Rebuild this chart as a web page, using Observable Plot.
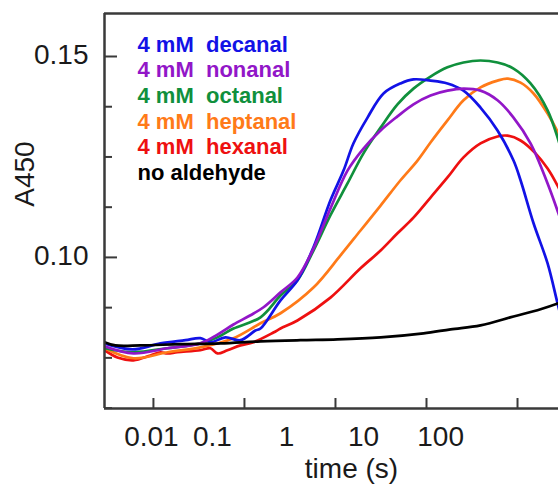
<!DOCTYPE html>
<html>
<head>
<meta charset="utf-8">
<script src="https://cdn.jsdelivr.net/npm/d3@7"></script>
<script src="https://cdn.jsdelivr.net/npm/@observablehq/plot@0.6"></script>
<style>
  html, body { margin: 0; padding: 0; background: #fff; }
</style>
</head>
<body>
<div id="chart"></div>
<script>
// ---- series identity ----
const seriesLabels = ["4 mM\u00a0\u00a0decanal", "4 mM\u00a0\u00a0nonanal", "4 mM\u00a0\u00a0octanal", "4 mM\u00a0\u00a0heptanal", "4 mM\u00a0\u00a0hexanal", "no aldehyde"];
const seriesColors = ["#1212e6", "#9216c8", "#10903c", "#ff7a18", "#ee1010", "#000000"];
// drawing order (back to front)
const drawOrder = [4, 3, 2, 0, 1, 5];

// ---- series values: time (s) and A450 ----
const decanalTime = [0.0029, 0.00588, 0.01194, 0.02249, 0.0328, 0.0423, 0.0618, 0.0904, 0.132, 0.150, 0.249, 0.382, 0.573, 0.881, 1.225, 1.578, 2.25, 3.37, 5.18, 7.19, 11.07, 17.0, 25.5, 39.2, 60.3, 90.4, 108, 150, 214, 275, 337];
const decanalA    = [0.0786, 0.0771, 0.0786, 0.0794, 0.0799, 0.0789, 0.0801, 0.0794, 0.0818, 0.0823, 0.0893, 0.0943, 0.1025, 0.1142, 0.1216, 0.1284, 0.1348, 0.1408, 0.1433, 0.1443, 0.1440, 0.1433, 0.1415, 0.1373, 0.1316, 0.1241, 0.1192, 0.1085, 0.0985, 0.0886, 0.0806];

const nonanalTime = [0.0029, 0.00603, 0.01425, 0.0328, 0.0505, 0.0757, 0.1165, 0.162, 0.249, 0.382, 0.573, 0.881, 1.355, 2.03, 3.13, 4.80, 7.19, 11.07, 17.0, 25.5, 39.2, 60.3, 90.4, 139, 214, 282, 337];
const nonanalA    = [0.0779, 0.0761, 0.0774, 0.0786, 0.0808, 0.0833, 0.0856, 0.0876, 0.0913, 0.0950, 0.1022, 0.1122, 0.1216, 0.1271, 0.1316, 0.1351, 0.1381, 0.1403, 0.1415, 0.1420, 0.1415, 0.1391, 0.1348, 0.1284, 0.1184, 0.1109, 0.1055];

const octanalTime = [0.0029, 0.00603, 0.01425, 0.0328, 0.0505, 0.0757, 0.150, 0.249, 0.382, 0.573, 0.881, 1.355, 2.03, 3.13, 4.80, 7.19, 11.07, 17.0, 25.5, 39.2, 60.3, 90.4, 139, 214, 282, 337];
const octanalA    = [0.0774, 0.0764, 0.0774, 0.0786, 0.0801, 0.0823, 0.0851, 0.0905, 0.0943, 0.1017, 0.1105, 0.1184, 0.1259, 0.1323, 0.1381, 0.1420, 0.1450, 0.1473, 0.1485, 0.1490, 0.1485, 0.1470, 0.1433, 0.1366, 0.1291, 0.1229];

const heptanalTime = [0.0029, 0.00603, 0.01425, 0.0328, 0.0757, 0.150, 0.249, 0.573, 1.135, 1.884, 3.13, 5.18, 7.96, 11.07, 17.0, 25.5, 39.2, 60.3, 77.6, 108, 150, 214, 282, 337];
const heptanalA    = [0.0774, 0.0749, 0.0764, 0.0776, 0.0799, 0.0836, 0.0861, 0.0925, 0.1005, 0.1067, 0.1129, 0.1192, 0.1241, 0.1286, 0.1341, 0.1391, 0.1423, 0.1440, 0.1445, 0.1435, 0.1408, 0.1358, 0.1308, 0.1266];

const hexanalTime = [0.0029, 0.00402, 0.00603, 0.00927, 0.01194, 0.01425, 0.01836, 0.0328, 0.0423, 0.0505, 0.0650, 0.0904, 0.1256, 0.208, 0.249, 0.382, 0.881, 1.884, 3.13, 4.80, 7.19, 11.07, 17.0, 25.5, 39.2, 60.3, 77.6, 108, 157.8, 214, 282, 337];
const hexanalA    = [0.0769, 0.0751, 0.0744, 0.0756, 0.0764, 0.0761, 0.0764, 0.0769, 0.0774, 0.0761, 0.0769, 0.0781, 0.0789, 0.0813, 0.0823, 0.0843, 0.0900, 0.0973, 0.1017, 0.1060, 0.1099, 0.1149, 0.1199, 0.1249, 0.1284, 0.1301, 0.1303, 0.1291, 0.1259, 0.1221, 0.1174, 0.1137];

const noAldehydeTime = [0.0029, 0.00382, 0.00719, 0.01983, 0.0545, 0.150, 0.412, 1.052, 3.13, 9.27, 18.4, 39.2, 90.4, 179, 282, 382];
const noAldehydeA    = [0.0789, 0.0781, 0.0781, 0.0784, 0.0786, 0.0791, 0.0794, 0.0796, 0.0801, 0.0811, 0.0821, 0.0831, 0.0853, 0.0871, 0.0886, 0.0898];

const seriesTimes = [decanalTime, nonanalTime, octanalTime, heptanalTime, hexanalTime, noAldehydeTime];
const seriesValues = [decanalA, nonanalA, octanalA, heptanalA, hexanalA, noAldehydeA];

// ---- axes ----
const xDomain = [0.0029, 282];
const yDomain = [0.0624, 0.1607];
const xTicks = [0.01, 0.1, 1, 10, 100];
const xTickLabels = ["0.01", "0.1", "1", "10", "100"];
const xTickLabelAt = [0.0095, 0.0445, 0.29, 2.03, 14.3]; // where the labels sit in the original figure
const yMinorTicks = [0.0625, 0.075, 0.0875, 0.1125, 0.125, 0.1375];
const yMajorTicks = [0.10, 0.15];
const xTitle = "time (s)";
const yTitle = "A450";

// ---- build table ----
const rows = [];
for (const i of drawOrder) {
  seriesTimes[i].forEach((t, j) => rows.push({series: seriesLabels[i], t, A: seriesValues[i][j]}));
}

const axisColor = "#3a3a3a";
const textColor = "#1a1a1a";

const legendMarks = seriesLabels.map((label, i) =>
  Plot.text([label], {
    frameAnchor: "top-left", dx: 33, dy: 38 + i * 25.7,
    textAnchor: "start", lineAnchor: "bottom",
    fill: seriesColors[i], fontWeight: "bold", fontSize: 22
  })
);

const chart = Plot.plot({
  width: 558,
  height: 484,
  marginLeft: 104,
  marginRight: 0,
  marginTop: 13,
  marginBottom: 76,
  style: {fontFamily: "'Liberation Sans', Arial, Helvetica, sans-serif", background: "#fff", color: textColor},
  x: {type: "log", domain: xDomain},
  y: {domain: yDomain},
  color: {domain: seriesLabels, range: seriesColors},
  marks: [
    Plot.line(rows, {x: "t", y: "A", z: "series", stroke: "series", strokeWidth: 2.7, curve: "catmull-rom", clip: true}),
    Plot.axisY({ticks: yMinorTicks, tickSize: -8, tickFormat: () => "", label: null, stroke: axisColor, strokeWidth: 2}),
    Plot.axisY({ticks: yMajorTicks, tickSize: -13, tickFormat: () => "", label: null, stroke: axisColor, strokeWidth: 2}),
    Plot.axisY({ticks: yMajorTicks, tickSize: 0, tickPadding: 16, tickFormat: ".2f", label: null, fontSize: 28, fill: textColor, dy: -1}),
    Plot.axisX({ticks: xTicks, tickSize: -10, tickFormat: () => "", label: null, stroke: axisColor, strokeWidth: 2}),
    Plot.text(xTickLabels, {x: (d, i) => xTickLabelAt[i], frameAnchor: "bottom", lineAnchor: "bottom", dy: 37, fontSize: 28, fill: textColor}),
    Plot.text([xTitle], {frameAnchor: "bottom", dx: 20, dy: 69, lineAnchor: "bottom", fontSize: 28, fill: textColor}),
    Plot.text([yTitle], {frameAnchor: "left", dx: -79, dy: -37, rotate: -90, lineAnchor: "middle", textAnchor: "middle", fontSize: 28, fill: textColor}),
    Plot.ruleY(yDomain, {stroke: axisColor, strokeWidth: 2.5}),
    Plot.ruleX([xDomain[0]], {stroke: axisColor, strokeWidth: 2.5}),
    ...legendMarks
  ]
});
document.getElementById("chart").appendChild(chart);
</script>
</body>
</html>
